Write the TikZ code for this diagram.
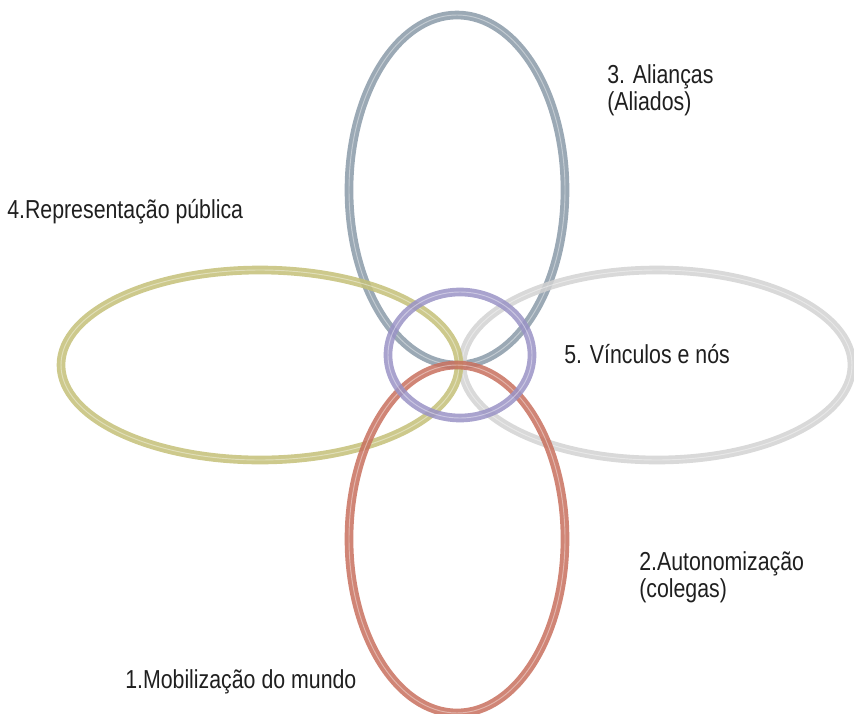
\documentclass[tikz,border=0pt]{standalone}
\usepackage{fontspec}
\setmainfont{Liberation Sans}[FakeStretch=0.82]
\begin{document}
\begin{tikzpicture}[x=0.75pt,y=-0.75pt,
  ring/.style={line width=6.5, opacity=0.85},
  core/.style={line width=0.7, white, opacity=0.4},
  lbl/.style={anchor=west, align=left, inner sep=0pt, font=\fontsize{19.5}{20.5}\selectfont, text=black!88}]
\useasboundingbox (0,0) rectangle (854,714);
\definecolor{cblue}{HTML}{8A9AA8}
\definecolor{cred}{HTML}{C8705E}
\definecolor{cyel}{HTML}{C4C078}
\definecolor{cgry}{HTML}{D2D2D2}
\definecolor{cpur}{HTML}{9A93C6}
% ellipses
\coordinate (ctop) at (457,190);
\coordinate (cbot) at (457,539);
\coordinate (cleft) at (260,365);
\coordinate (cright) at (657,365);
\coordinate (cmid) at (460,355);
\draw[ring,cblue] (ctop) ellipse [x radius=108, y radius=175];
\draw[core] (ctop) ellipse [x radius=108, y radius=175];
\draw[ring,cgry] (cright) ellipse [x radius=195, y radius=95];
\draw[core] (cright) ellipse [x radius=195, y radius=95];
\draw[ring,cyel] (cleft) ellipse [x radius=199, y radius=95];
\draw[core] (cleft) ellipse [x radius=199, y radius=95];
\draw[ring,cred] (cbot) ellipse [x radius=108, y radius=174];
\draw[core] (cbot) ellipse [x radius=108, y radius=174];
\draw[ring,cpur] (cmid) ellipse [x radius=72, y radius=63];
\draw[core] (cmid) ellipse [x radius=72, y radius=63];
% labels
\node[lbl] (l3) at (607,90) {3. Alianças\\(Aliados)};
\node[lbl] (l4) at (7,212) {4.Representação pública};
\node[lbl] (l5) at (564,354) {5. Vínculos e nós};
\node[lbl] (l2) at (639,577) {2.Autonomização\\(colegas)};
\node[lbl] (l1) at (125,682) {1.Mobilização do mundo};
\end{tikzpicture}
\end{document}
